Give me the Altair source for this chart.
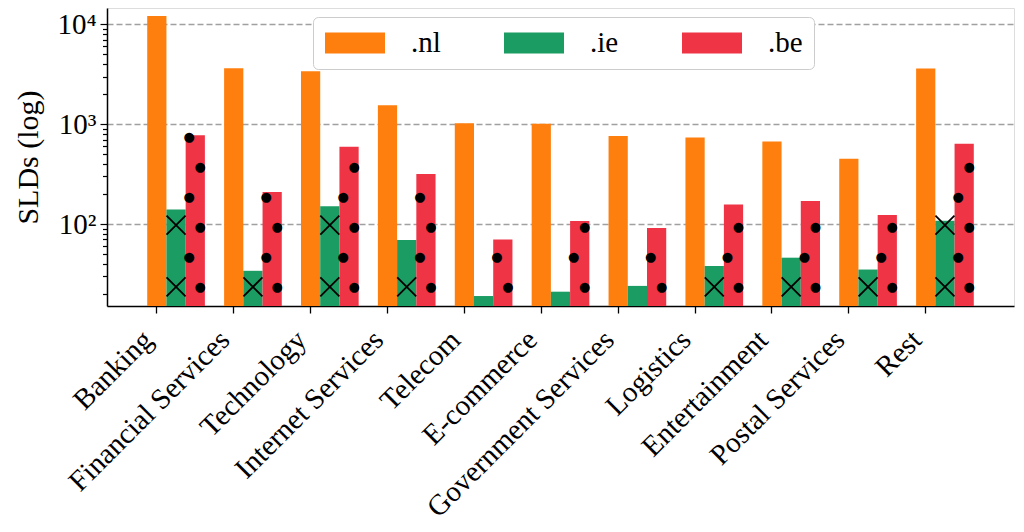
import math
import altair as alt
import pandas as pd

FONT = "Liberation Serif"

categories = ["Banking", "Financial Services", "Technology", "Internet Services",
              "Telecom", "E-commerce", "Government Services", "Logistics",
              "Entertainment", "Postal Services", "Rest"]
series = [".nl", ".ie", ".be"]
nl_values = [12100, 3630, 3390, 1550, 1020, 1010, 760, 735, 670, 450, 3600]
ie_values = [140, 34, 151, 69, 19, 21, 24, 38, 46, 35, 108]
be_values = [775, 209, 593, 316, 70, 107, 91, 157, 170, 123, 635]
colors = ["#ff7f0e", "#1a9c63", "#ef3446"]
y_major = [100, 1000, 10000]
y_minor = [20, 30, 40, 50, 60, 70, 80, 90,
           200, 300, 400, 500, 600, 700, 800, 900,
           2000, 3000, 4000, 5000, 6000, 7000, 8000, 9000]

rows = []
for c, a, b, d in zip(categories, nl_values, ie_values, be_values):
    rows.append({"category": c, "tld": ".nl", "slds": a})
    rows.append({"category": c, "tld": ".ie", "slds": b})
    rows.append({"category": c, "tld": ".be", "slds": d})
bars_df = pd.DataFrame(rows)

# hatch textures (decoration derived from the bar values)
dot_rows = []
for c, v in zip(categories, be_values):
    for k in range(12):
        ly = 1.369 + 0.3 * k
        if ly + 0.02 < math.log10(v):
            dot_rows.append({"category": c, "tld": ".be", "y": 10 ** ly,
                             "side": "r" if k % 2 == 0 else "l"})
dots_df = pd.DataFrame(dot_rows)

x_rows = []
for c, v in zip(categories, ie_values):
    for k in range(6):
        ly = 1.37 + 0.62 * k
        if ly + 0.04 < math.log10(v):
            x_rows.append({"category": c, "tld": ".ie", "y": 10 ** ly})
xs_df = pd.DataFrame(x_rows)

major_test = "datum.value == 100 || datum.value == 1000 || datum.value == 10000"

x_scale = alt.Scale(paddingInner=0.25, paddingOuter=0.523)
x_enc = alt.X(
    "category:N", sort=categories, title=None, scale=x_scale,
    axis=alt.Axis(bandPosition=1 / 6, labelAngle=-45, labelAlign="right",
                  labelBaseline="top", labelFontSize=29, labelFont=FONT,
                  labelColor="black", labelPadding=12, labelOffset=-38,
                  labelLimit=0, tickSize=7,
                  tickColor="black", tickWidth=1.3, domainColor="black",
                  domainWidth=1.5, grid=False),
)
x_plain = alt.X("category:N", sort=categories, scale=x_scale)
xoff_enc = alt.XOffset("tld:N", sort=series,
                       scale=alt.Scale(domain=series, paddingInner=0, paddingOuter=0))
y_scale = alt.Scale(type="log", domain=[15.1, 14560], nice=False)

y_axis = alt.Axis(
    values=y_major + y_minor,
    labelExpr="datum.value == 100 ? '10²' : datum.value == 1000 ? '10³' : datum.value == 10000 ? '10⁴' : ''",
    labelFontSize=29, labelFont=FONT, labelColor="black", labelFlush=False,
    labelOverlap=False, labelPadding=4,
    tickSize={"condition": {"test": major_test, "value": 7}, "value": 4.5},
    tickColor="black", tickWidth=1.2, domainColor="black", domainWidth=1.5,
    grid=True, gridDash=[6, 3], gridColor="#a0a0a0", gridWidth=1.3,
    gridOpacity={"condition": {"test": major_test, "value": 1}, "value": 0},
    title="SLDs (log)", titleFont=FONT, titleFontSize=30, titleFontWeight="normal",
    titleColor="black", titlePadding=13,
)

bars = alt.Chart(bars_df).mark_bar().encode(
    x=x_enc,
    xOffset=xoff_enc,
    y=alt.Y("slds:Q", scale=y_scale, axis=y_axis, stack=None),
    color=alt.Color(
        "tld:N", sort=series,
        scale=alt.Scale(domain=series, range=colors),
        legend=alt.Legend(
            title=None, orient="none", legendX=206, legendY=9,
            direction="horizontal", columns=3,
            symbolType="M-2,-0.7H2V0.7H-2Z", symbolSize=900,
            symbolStrokeWidth=0, symbolOpacity=1, symbolOffset=16,
            labelFontSize=29, labelFont=FONT, labelColor="black",
            labelOffset=41, columnPadding=62, padding=11,
            fillColor="white", strokeColor="#cccccc", cornerRadius=5,
        ),
    ),
)

dots_r = alt.Chart(dots_df).transform_filter("datum.side == 'r'").mark_text(
    text="●", font="DejaVu Sans", fontSize=13, color="black", dx=5,
    align="center", baseline="middle"
).encode(x=x_plain, xOffset=xoff_enc, y=alt.Y("y:Q", scale=y_scale))
dots_l = alt.Chart(dots_df).transform_filter("datum.side == 'l'").mark_text(
    text="●", font="DejaVu Sans", fontSize=13, color="black", dx=-6,
    align="center", baseline="middle"
).encode(x=x_plain, xOffset=xoff_enc, y=alt.Y("y:Q", scale=y_scale))
crosses = alt.Chart(xs_df).mark_point(
    shape="M-1,-1L1,1M-1,1L1,-1", filled=False, stroke="black",
    strokeWidth=1.8, size=361, opacity=1
).encode(x=x_plain, xOffset=xoff_enc, y=alt.Y("y:Q", scale=y_scale))

chart = alt.layer(bars, crosses, dots_r, dots_l).properties(
    width=907, height=298,
    autosize=alt.AutoSizeParams(type="none"),
    padding={"left": 99, "top": 0, "right": 2, "bottom": 216},
).configure_view(stroke="black", strokeWidth=1.5).configure(font=FONT)

chart.save("out.html", embed_options={"renderer": "svg", "actions": False})
